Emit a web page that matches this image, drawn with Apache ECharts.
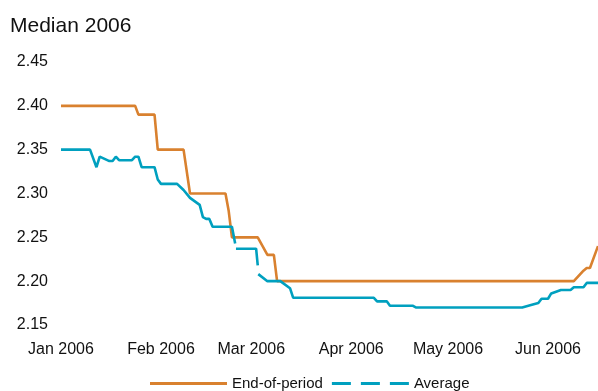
<!DOCTYPE html>
<html>
<head>
<meta charset="utf-8">
<script src="https://cdn.jsdelivr.net/npm/echarts@6/dist/echarts.min.js"></script>
<style>
html,body{margin:0;padding:0;background:#fff;}
#chart{width:598px;height:391px;}
</style>
</head>
<body>
<div id="chart"></div>
<script>
// ---- data ----
var subtitle = 'Median 2006';
var seriesNames = ['End-of-period', 'Average'];
var monthStarts = ['2006-01-01','2006-02-01','2006-03-01','2006-04-01','2006-05-01','2006-06-01'];
var monthLabels = ['Jan 2006','Feb 2006','Mar 2006','Apr 2006','May 2006','Jun 2006'];
var yTicks = [2.15, 2.20, 2.25, 2.30, 2.35, 2.40, 2.45];
var xRange = ['2006-01-01', '2006-06-16 12:00'];

var eopDates = ['2006-01-01','2006-01-24','2006-01-25','2006-01-30','2006-01-31','2006-02-08','2006-02-10',
  '2006-02-21','2006-02-22','2006-02-23','2006-03-03','2006-03-06','2006-03-08','2006-03-09',
  '2006-06-09','2006-06-12','2006-06-13','2006-06-14','2006-06-16 12:00'];
var eopValues = [2.40,2.40,2.39,2.39,2.35,2.35,2.30,
  2.30,2.28,2.25,2.25,2.23,2.23,2.20,
  2.20,2.212,2.215,2.215,2.24];

var avgDates = ['2006-01-01','2006-01-10','2006-01-12','2006-01-13','2006-01-16','2006-01-17','2006-01-18','2006-01-19',
  '2006-01-23','2006-01-24','2006-01-25','2006-01-26','2006-01-30','2006-01-31','2006-02-01','2006-02-06',
  '2006-02-08','2006-02-10','2006-02-13','2006-02-14','2006-02-15','2006-02-16','2006-02-17','2006-02-23',
  '2006-02-24','2006-02-24 03:00','2006-02-24 06:00','2006-03-02 12:00','2006-03-03','2006-03-03 02:00',
  '2006-03-03 04:00','2006-03-06','2006-03-10','2006-03-13','2006-03-14','2006-04-08','2006-04-09','2006-04-12',
  '2006-04-13','2006-04-20','2006-04-21','2006-05-24','2006-05-27','2006-05-29','2006-05-30','2006-06-01',
  '2006-06-02','2006-06-05','2006-06-08','2006-06-09','2006-06-12','2006-06-13','2006-06-16 12:00'];
var avgValues = [2.35,2.35,2.33,2.342,2.337,2.337,2.342,2.338,
  2.338,2.342,2.342,2.33,2.33,2.316,2.311,2.311,
  2.304,2.295,2.287,2.273,2.271,2.271,2.262,2.262,
  2.243,null,2.237,2.237,2.218,null,
  2.208,2.20,2.20,2.192,2.181,2.181,2.177,2.177,
  2.172,2.172,2.17,2.17,2.173,2.175,2.18,2.18,
  2.186,2.19,2.19,2.193,2.193,2.198,2.198];

// ---- build ----
function ts(s){ return +echarts.time.parse(s); }
function pairs(d, v){ return d.map(function(x,i){ return [ts(x), v[i]]; }); }
var monthTs = monthStarts.map(ts);

var chart = echarts.init(document.getElementById('chart'), null, {renderer:'canvas'});
var textColor = '#111111';
var font = 'Arial, "Liberation Sans", sans-serif';
chart.setOption({
  animation: false,
  backgroundColor: '#ffffff',
  title: {
    text: subtitle, left: 5, top: 11,
    textStyle: {fontFamily: font, fontSize: 21, fontWeight: 'normal', color: textColor}
  },
  grid: {left: 61, right: 0, top: 62, bottom: 66, containLabel: false},
  legend: {
    left: 150, top: 376, padding: 0,
    itemWidth: 77, itemHeight: 3, itemGap: 9,
    textStyle: {fontFamily: font, fontSize: 15, color: textColor},
    data: [
      {name: seriesNames[0], icon: 'rect'},
      {name: seriesNames[1], icon: 'path://M0,0 H19 V3 H0 Z M29,0 H48 V3 H29 Z M58,0 H77 V3 H58 Z'}
    ]
  },
  xAxis: {
    type: 'value',
    min: ts(xRange[0]),
    max: ts(xRange[1]),
    axisLine: {show: false},
    axisTick: {show: false},
    splitLine: {show: false},
    axisLabel: {
      customValues: monthTs,
      margin: 17,
      fontFamily: font, fontSize: 16, color: textColor,
      formatter: function(val){
        var i = monthTs.indexOf(+val);
        return i >= 0 ? monthLabels[i] : '';
      }
    }
  },
  yAxis: {
    type: 'value',
    min: yTicks[0], max: yTicks[yTicks.length-1], interval: 0.05,
    axisLine: {show: false},
    axisTick: {show: false},
    splitLine: {show: false},
    axisLabel: {
      margin: 13,
      fontFamily: font, fontSize: 16, color: textColor,
      formatter: function(v){ return v.toFixed(2); }
    }
  },
  series: [
    {
      name: seriesNames[0], type: 'line', showSymbol: false, symbol: 'none',
      data: pairs(eopDates, eopValues),
      lineStyle: {color: '#D9812F', width: 2.6},
      itemStyle: {color: '#D9812F'}
    },
    {
      name: seriesNames[1], type: 'line', showSymbol: false, symbol: 'none',
      connectNulls: false,
      data: pairs(avgDates, avgValues),
      lineStyle: {color: '#00A0BF', width: 2.6},
      itemStyle: {color: '#00A0BF'}
    }
  ]
});
</script>
</body>
</html>
